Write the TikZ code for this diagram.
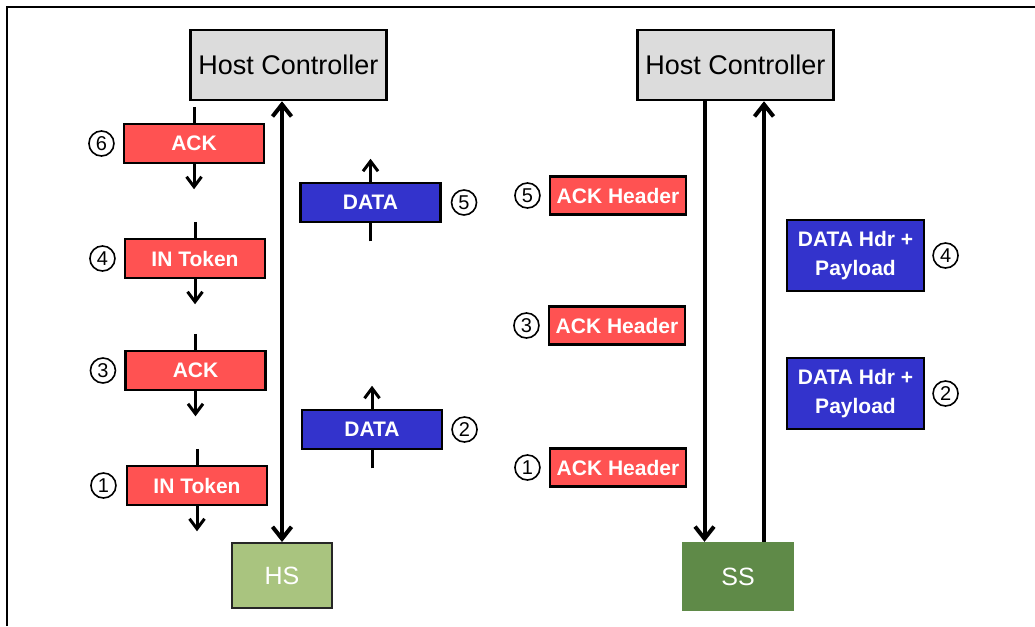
\documentclass[tikz,border=0pt]{standalone}
\usepackage{fontspec}
\setmainfont{Liberation Sans}
\usepackage{xcolor}
\usepackage{tikz}
\usetikzlibrary{arrows.meta, positioning}

\definecolor{hostgray}{HTML}{DCDCDC}
\definecolor{pktred}{HTML}{FF5252}
\definecolor{pktblue}{HTML}{3333CC}
\definecolor{hsgreen}{HTML}{A9C47F}
\definecolor{ssgreen}{HTML}{5F8A48}

\begin{document}
\begin{tikzpicture}[
    x=1pt, y=-1pt,
    host/.style={rectangle, draw=black, fill=hostgray, line width=2.5pt, minimum width=196pt, minimum height=70pt, font=\fontsize{27}{30}\selectfont},
    pkt/.style={rectangle, draw=black, line width=2.5pt, text=white, inner sep=0pt, align=center, font=\bfseries\fontsize{21}{29}\selectfont},
    redpkt/.style={pkt, fill=pktred, minimum width=140pt, minimum height=39pt},
    hdrpkt/.style={pkt, fill=pktred, minimum width=136pt, minimum height=38pt},
    bluepkt/.style={pkt, fill=pktblue, minimum width=140pt, minimum height=39pt},
    payload/.style={pkt, fill=pktblue, minimum width=137pt, minimum height=71pt},
    dev/.style={rectangle, text=white, font=\fontsize{25}{28}\selectfont},
    num/.style={circle, draw=black, line width=1.6pt, minimum size=25pt, inner sep=0pt, font=\fontsize{20}{20}\selectfont},
    bigarrow/.style={-{Straight Barb[length=12pt, width=19pt]}, line width=4pt},
    smallarrow/.style={-{Straight Barb[length=10pt, width=15pt]}, line width=3pt},
    stub/.style={line width=3pt}
]
\useasboundingbox (0,0) rectangle (1035,626);
\draw[line width=2pt] (7,626) -- (7,7) -- (1035,7);

\node[host] (hostl) at (288.5,65) {Host Controller};
\node[host] (hostr) at (735.5,65) {Host Controller};
\node[dev, draw=black!85, line width=2pt, fill=hsgreen, minimum width=100pt, minimum height=65pt] (hs) at (282,575.5) {HS};
\node[dev, fill=ssgreen, minimum width=112pt, minimum height=69pt] (ss) at (738,576.5) {SS};

\node[redpkt] (ack6) at (194,143.5) {ACK};
\node[redpkt] (intok4) at (195,258.5) {IN Token};
\node[redpkt] (ack3) at (195.5,370.5) {ACK};
\node[redpkt] (intok1) at (197,485.5) {IN Token};
\node[bluepkt] (data5) at (370.5,202.5) {DATA};
\node[bluepkt] (data2) at (372,429.5) {DATA};

\node[num, left=8pt of ack6] (n6) {6};
\node[num, left=8pt of intok4] (n4) {4};
\node[num, left=8pt of ack3] (n3) {3};
\node[num, left=9pt of intok1] (n1) {1};
\node[num, right=9pt of data5] (n5) {5};
\node[num, right=8pt of data2] (n2) {2};

\node[hdrpkt] (hdr5) at (618,195.5) {ACK Header};
\node[hdrpkt] (hdr3) at (617,325.5) {ACK Header};
\node[hdrpkt] (hdr1) at (618,467.5) {ACK Header};
\node[payload] (pay4) at (855.5,255.5) {DATA Hdr +\\Payload};
\node[payload] (pay2) at (855.5,393.5) {DATA Hdr +\\Payload};

\node[num, left=8pt of hdr5] (m5) {5};
\node[num, left=8pt of hdr3] (m3) {3};
\node[num, left=8pt of hdr1] (m1) {1};
\node[num, right=7pt of pay4] (m4) {4};
\node[num, right=7pt of pay2] (m2) {2};

\foreach \p in {ack6, intok4, ack3, intok1} {
  \coordinate[above=16pt of \p.north] (\p top);
  \coordinate[below=25pt of \p.south] (\p bot);
  \draw[stub] (\p top) -- (\p);
  \draw[smallarrow] (\p) -- (\p bot);
}
\foreach \p in {data5, data2} {
  \coordinate[below=18pt of \p.south] (\p bot);
  \coordinate[above=23pt of \p.north] (\p top);
  \draw[stub] (\p bot) -- (\p);
  \draw[smallarrow] (\p) -- (\p top);
}

\draw[bigarrow, {Straight Barb[length=12pt, width=19pt]}-{Straight Barb[length=12pt, width=19pt]}] (hs.north |- hostl.south) -- (hs.north);
\draw[bigarrow] ([xshift=-31pt]hostr.south) -- ([xshift=-31pt]hostr.south |- ss.north);
\draw[bigarrow] ([xshift=26pt]ss.north) -- ([xshift=26pt]ss.north |- hostr.south);

\end{tikzpicture}
\end{document}
